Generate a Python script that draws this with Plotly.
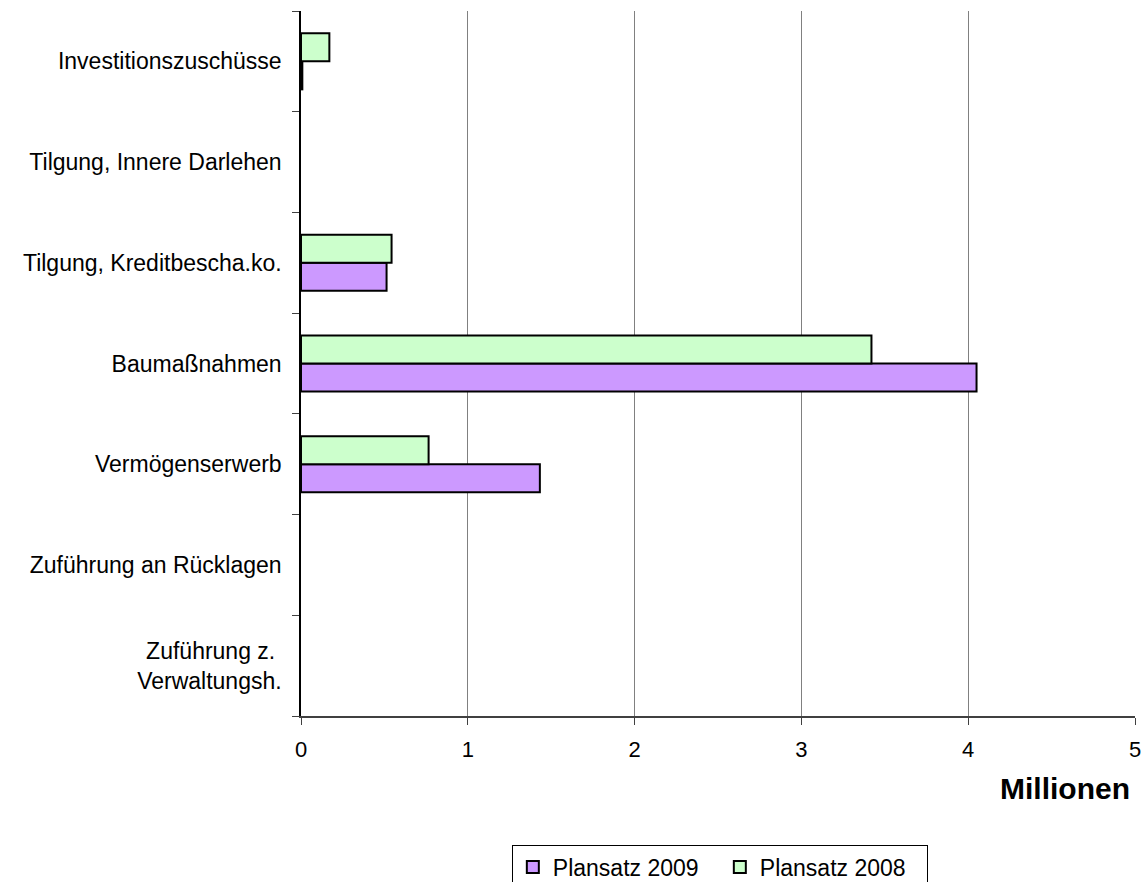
import plotly.graph_objects as go

# categories listed bottom-to-top
categories = [
    "Zuführung z.\u00a0<br>Verwaltungsh.",
    "Zuführung an Rücklagen",
    "Vermögenserwerb",
    "Baumaßnahmen",
    "Tilgung, Kreditbescha.ko.",
    "Tilgung, Innere Darlehen",
    "Investitionszuschüsse",
]
plansatz_2009 = [None, None, 1.432, 4.05, 0.513, None, 0.008]
plansatz_2008 = [None, None, 0.765, 3.42, 0.543, None, 0.17]
x_ticks = [0, 1, 2, 3, 4, 5]

FONT = "Liberation Sans, Arial, sans-serif"

fig = go.Figure()
fig.add_trace(go.Bar(
    y=categories, x=plansatz_2009, orientation="h", name="Plansatz 2009",
    marker=dict(color="#CC99FF", line=dict(color="black", width=2)),
))
fig.add_trace(go.Bar(
    y=categories, x=plansatz_2008, orientation="h", name="Plansatz 2008",
    marker=dict(color="#CCFFCC", line=dict(color="black", width=2)),
))

fig.update_layout(
    width=1145, height=882,
    margin=dict(l=301, r=10, t=11, b=166, autoexpand=False),
    paper_bgcolor="white", plot_bgcolor="white",
    barmode="group", bargap=0.444, bargroupgap=0,
    font=dict(family=FONT, size=23, color="black"),
    showlegend=True,
    legend=dict(
        orientation="h", x=0.2528, y=-0.1825, xanchor="left", yanchor="top",
        bordercolor="black", borderwidth=1, font=dict(size=23),
        traceorder="normal", entrywidth=162, entrywidthmode="pixels",
    ),
    annotations=[dict(
        text="<b>Millionen</b>", x=0.996, y=-0.1035, xref="paper", yref="paper",
        xanchor="right", yanchor="middle", showarrow=False,
        font=dict(size=30, family=FONT, color="black"),
    )],
)

fig.update_xaxes(
    range=[0, 5], tickvals=x_ticks, ticktext=[str(v) for v in x_ticks],
    showgrid=True, gridcolor="#808080", gridwidth=1,
    showline=True, linecolor="#404040", linewidth=1.5,
    ticks="outside", ticklen=7, tickcolor="#404040",
    zeroline=False, tickfont=dict(size=22), ticklabelstandoff=6,
    automargin=False,
)
fig.update_yaxes(
    type="category", categoryorder="array", categoryarray=categories,
    showgrid=False, showline=True, linecolor="black", linewidth=1.5,
    ticks="outside", ticklen=7, tickcolor="#404040", tickson="boundaries",
    ticklabelstandoff=13, tickfont=dict(size=23), automargin=False,
)

fig.write_html(
    "out.html",
    config={"displayModeBar": False},
    post_script="document.body.style.margin='0';",
)
